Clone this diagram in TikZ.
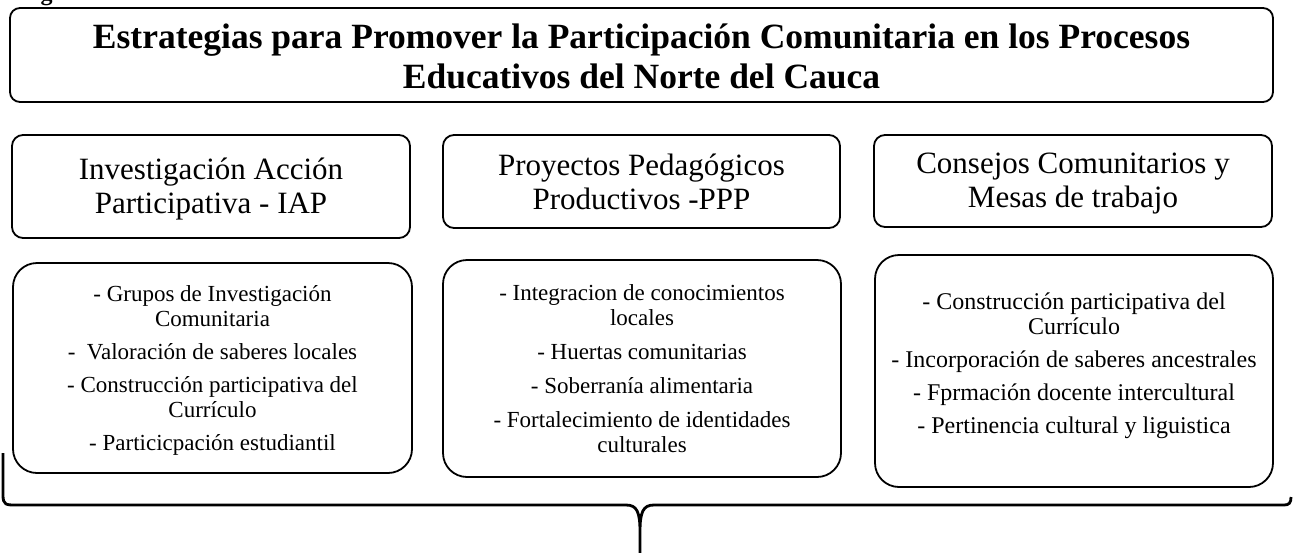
\documentclass[tikz,border=0pt]{standalone}
\usepackage{fontspec}
\setmainfont{Liberation Serif}
\begin{document}
\begin{tikzpicture}[x=1pt,y=-1pt,
  box/.style={draw, line width=1.8pt, inner sep=0pt},
  titlebox/.style={box, rounded corners=10pt},
  headbox/.style={box, rounded corners=11pt},
  itembox/.style={box, rounded corners=24pt},
  txt/.style={inner sep=0pt, align=center},
  titletxt/.style={txt, font=\bfseries\fontsize{35.5}{40}\selectfont},
  headtxt/.style={txt, font=\fontsize{31}{34}\selectfont},
  itemtxt/.style={txt, font=\fontsize{23}{25}\selectfont},
  bracestyle/.style={line width=2.8pt, line join=round}
]
\useasboundingbox (0,0) rectangle (1293,552);

\node[anchor=base west, font=\bfseries\fontsize{24}{24}\selectfont] (fig) at (37,0) {g};

% boxes
\node[titlebox, minimum width=1263pt, minimum height=94pt] (title) at (641.5,55) {};
\node[headbox, minimum width=398pt, minimum height=103pt] (h1) at (211,186.5) {};
\node[headbox, minimum width=397pt, minimum height=93pt] (h2) at (641.5,181.5) {};
\node[headbox, minimum width=398pt, minimum height=92pt] (h3) at (1073,181) {};
\node[itembox, minimum width=399pt, minimum height=210pt] (l1) at (212.5,368) {};
\node[itembox, minimum width=398pt, minimum height=217pt] (l2) at (642,368.5) {};
\node[itembox, minimum width=398pt, minimum height=232pt] (l3) at (1074,371) {};

% texts
\node[titletxt] (titlet) at (641.5,56)
  {Estrategias para Promover la Participación Comunitaria en los Procesos\\Educativos del Norte del Cauca};
\node[headtxt] (h1t) at (211,189) {Investigación Acción\\Participativa - IAP};
\node[headtxt] (h2t) at (641.5,182) {Proyectos Pedagógicos\\Productivos -PPP};
\node[headtxt] (h3t) at (1073,184) {Consejos Comunitarios y\\Mesas de trabajo};

\node[itemtxt] (l1t) at (212.5,370)
  {- Grupos de Investigación\\Comunitaria\\[8pt]- \ Valoración de saberes locales\\[8pt]- Construcción participativa del\\Currículo\\[8pt]- Particicpación estudiantil};
\node[itemtxt] (l2t) at (642,369)
  {- Integracion de conocimientos\\locales\\[9pt]- Huertas comunitarias\\[9pt]- Soberranía alimentaria\\[9pt]- Fortalecimiento de identidades\\culturales};
\node[itemtxt, font=\fontsize{24}{25}\selectfont] (l3t) at (1074,366)
  {- Construcción participativa del\\Currículo\\[8pt]- Incorporación de saberes ancestrales\\[8pt]- Fprmación docente intercultural\\[8pt]- Pertinencia cultural y liguistica};

% brace
\draw[bracestyle] (3,453) -- (3,495) .. controls (3,505) and (6,505) .. (16,505)
  -- (626,505) .. controls (637,505) and (640,512) .. (640,532) -- (640,553)
  (640,532) .. controls (640,512) and (643,505) .. (654,505)
  -- (1284,505) .. controls (1289,505) and (1291,503) .. (1291,497);
\end{tikzpicture}
\end{document}
